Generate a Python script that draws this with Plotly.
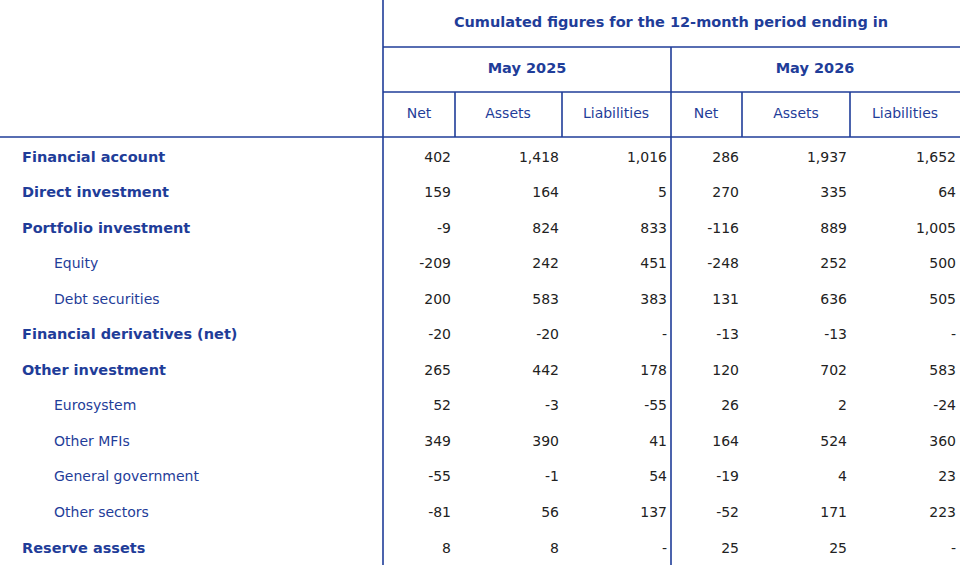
import plotly.graph_objects as go

rows = ["Financial account", "Direct investment", "Portfolio investment", "Equity",
        "Debt securities", "Financial derivatives (net)", "Other investment", "Eurosystem",
        "Other MFIs", "General government", "Other sectors", "Reserve assets"]
is_sub = [False, False, False, True, True, False, False, True, True, True, True, False]
net_2025 = ["402", "159", "-9", "-209", "200", "-20", "265", "52", "349", "-55", "-81", "8"]
assets_2025 = ["1,418", "164", "824", "242", "583", "-20", "442", "-3", "390", "-1", "56", "8"]
liab_2025 = ["1,016", "5", "833", "451", "383", "-", "178", "-55", "41", "54", "137", "-"]
net_2026 = ["286", "270", "-116", "-248", "131", "-13", "120", "26", "164", "-19", "-52", "25"]
assets_2026 = ["1,937", "335", "889", "252", "636", "-13", "702", "2", "524", "4", "171", "25"]
liab_2026 = ["1,652", "64", "1,005", "500", "505", "-", "583", "-24", "360", "23", "223", "-"]
col_headers = ["Net", "Assets", "Liabilities", "Net", "Assets", "Liabilities"]
period_headers = ["May 2025", "May 2026"]
title = "Cumulated figures for the 12-month period ending in"

NAVY = "#1F3D99"
FONT = "DejaVu Sans, Verdana, sans-serif"
row_y = [158 + i * 35.55 for i in range(len(rows))]
col_right = [451, 559, 667, 739, 847, 956]
col_center = [419, 508, 616, 706, 796, 905]

fig = go.Figure()
for flag in (False, True):
    idx = [i for i, s in enumerate(is_sub) if s == flag]
    fig.add_trace(go.Scatter(
        x=[54 if flag else 22] * len(idx), y=[row_y[i] for i in idx],
        text=[(rows[i] if flag else "<b>" + rows[i] + "</b>") for i in idx],
        mode="text", textposition="middle right",
        textfont=dict(family=FONT, size=14 if flag else 14.5, color=NAVY),
        hoverinfo="skip", showlegend=False))
cols = [net_2025, assets_2025, liab_2025, net_2026, assets_2026, liab_2026]
for c, vals in enumerate(cols):
    fig.add_trace(go.Scatter(
        x=[col_right[c]] * len(vals), y=row_y, text=vals, mode="text",
        textposition="middle left",
        textfont=dict(family=FONT, size=14, color="#222222"),
        hoverinfo="skip", showlegend=False))
fig.add_trace(go.Scatter(
    x=col_center, y=[114] * 6, text=col_headers, mode="text", textposition="middle center",
    textfont=dict(family=FONT, size=14, color=NAVY), hoverinfo="skip", showlegend=False))
fig.add_trace(go.Scatter(
    x=[527, 815], y=[69, 69], text=["<b>" + p + "</b>" for p in period_headers], mode="text",
    textposition="middle center", textfont=dict(family=FONT, size=14.5, color=NAVY),
    hoverinfo="skip", showlegend=False))
fig.add_trace(go.Scatter(
    x=[671], y=[23], text=["<b>" + title + "</b>"], mode="text", textposition="middle center",
    textfont=dict(family=FONT, size=14.5, color=NAVY), hoverinfo="skip", showlegend=False))

line = dict(color=NAVY, width=1.6)
segs = [(383, 0, 383, 565), (671, 47, 671, 565), (455, 92, 455, 137), (562, 92, 562, 137),
        (742, 92, 742, 137), (850, 92, 850, 137),
        (383, 47, 960, 47), (383, 92, 960, 92), (0, 137, 960, 137)]
for x0, y0, x1, y1 in segs:
    fig.add_shape(type="line", x0=x0, y0=y0, x1=x1, y1=y1, xref="x", yref="y", line=line)

fig.update_layout(width=960, height=565, margin=dict(l=0, r=0, t=0, b=0),
                  paper_bgcolor="white", plot_bgcolor="white",
                  xaxis=dict(range=[0, 960], visible=False, fixedrange=True),
                  yaxis=dict(range=[565, 0], visible=False, fixedrange=True))
fig.write_html("out.html", config={"displayModeBar": False})
with open("out.html", encoding="utf-8") as f:
    html = f.read()
html = html.replace("<body>", '<body style="margin:0;overflow:hidden">', 1)
with open("out.html", "w", encoding="utf-8") as f:
    f.write(html)
